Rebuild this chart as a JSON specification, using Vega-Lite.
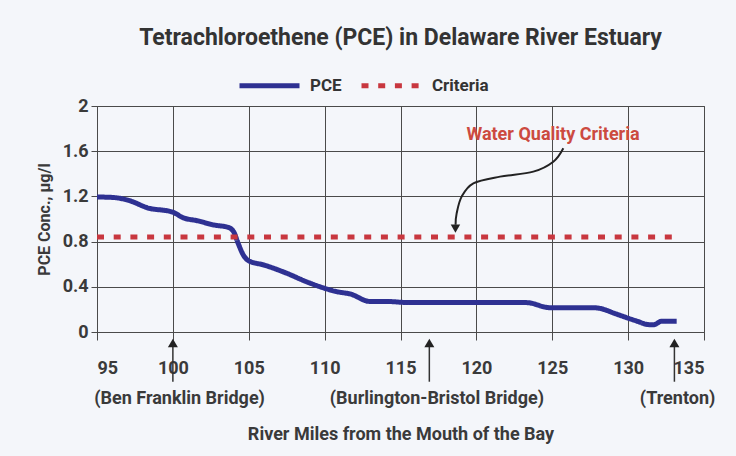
{
  "$schema": "https://vega.github.io/schema/vega-lite/v6.json",
  "width": 607,
  "height": 226,
  "autosize": {"type": "none"},
  "padding": {"left": 97, "top": 106, "right": 32, "bottom": 124},
  "background": "#f4f6fa",
  "title": {
    "text": "Tetrachloroethene (PCE) in Delaware River Estuary",
    "font": "Roboto",
    "fontSize": 23,
    "fontWeight": "bold",
    "color": "#333333",
    "anchor": "middle",
    "frame": "group",
    "offset": 3
  },
  "config": {
    "view": {"stroke": "#4a4a4a", "strokeWidth": 1, "fill": "#f4f6fa"},
    "axis": {
      "labelFont": "Roboto",
      "labelFontSize": 18,
      "labelFontWeight": "bold",
      "labelColor": "#3a3a3a",
      "titleFont": "Roboto",
      "titleFontSize": 18,
      "titleFontWeight": "bold",
      "titleColor": "#3a3a3a",
      "gridColor": "#4a4a4a",
      "gridOpacity": 1,
      "gridWidth": 1,
      "tickColor": "#4a4a4a",
      "domain": false
    },
    "legend": {
      "symbolType": "stroke",
      "symbolSize": 3600,
      "symbolStrokeWidth": 5,
      "labelFont": "Roboto",
      "labelFontSize": 17,
      "labelFontWeight": "bold",
      "labelColor": "#333333",
      "labelOffset": 8,
      "columnPadding": 9,
      "padding": 0
    }
  },
  "datasets": {
    "series": [
      {"mile": 95.0, "value": 1.195, "series": "PCE"},
      {"mile": 96.1, "value": 1.19, "series": "PCE"},
      {"mile": 97.2, "value": 1.16, "series": "PCE"},
      {"mile": 98.3, "value": 1.1, "series": "PCE"},
      {"mile": 100.0, "value": 1.06, "series": "PCE"},
      {"mile": 100.7, "value": 1.01, "series": "PCE"},
      {"mile": 101.6, "value": 0.985, "series": "PCE"},
      {"mile": 102.7, "value": 0.947, "series": "PCE"},
      {"mile": 103.65, "value": 0.926, "series": "PCE"},
      {"mile": 104.0, "value": 0.888, "series": "PCE"},
      {"mile": 104.3, "value": 0.785, "series": "PCE"},
      {"mile": 104.65, "value": 0.68, "series": "PCE"},
      {"mile": 105.0, "value": 0.63, "series": "PCE"},
      {"mile": 106.0, "value": 0.593, "series": "PCE"},
      {"mile": 107.5, "value": 0.52, "series": "PCE"},
      {"mile": 108.8, "value": 0.445, "series": "PCE"},
      {"mile": 110.0, "value": 0.387, "series": "PCE"},
      {"mile": 110.8, "value": 0.357, "series": "PCE"},
      {"mile": 111.7, "value": 0.336, "series": "PCE"},
      {"mile": 113.0, "value": 0.27, "series": "PCE"},
      {"mile": 114.1, "value": 0.27, "series": "PCE"},
      {"mile": 115.6, "value": 0.26, "series": "PCE"},
      {"mile": 120.0, "value": 0.26, "series": "PCE"},
      {"mile": 123.3, "value": 0.26, "series": "PCE"},
      {"mile": 124.85, "value": 0.215, "series": "PCE"},
      {"mile": 127.7, "value": 0.215, "series": "PCE"},
      {"mile": 128.1, "value": 0.21, "series": "PCE"},
      {"mile": 129.2, "value": 0.16, "series": "PCE"},
      {"mile": 130.5, "value": 0.1, "series": "PCE"},
      {"mile": 131.4, "value": 0.065, "series": "PCE"},
      {"mile": 131.7, "value": 0.065, "series": "PCE"},
      {"mile": 132.2, "value": 0.095, "series": "PCE"},
      {"mile": 133.2, "value": 0.095, "series": "PCE"},
      {"mile": 95.0, "value": 0.84, "series": "Criteria"},
      {"mile": 133.0, "value": 0.84, "series": "Criteria"}
    ],
    "curve": [
      {"mile": 125.73, "value": 1.626, "ord": 1},
      {"mile": 125.07, "value": 1.507, "ord": 2},
      {"mile": 123.75, "value": 1.419, "ord": 3},
      {"mile": 121.56, "value": 1.375, "ord": 4},
      {"mile": 119.8, "value": 1.316, "ord": 5},
      {"mile": 119.03, "value": 1.198, "ord": 6},
      {"mile": 118.7, "value": 1.05, "ord": 7},
      {"mile": 118.63, "value": 0.95, "ord": 8}
    ],
    "tip": [{"mile": 118.62, "value": 0.915}],
    "note": [{"mile": 125.05, "value": 1.743, "text": "Water Quality Criteria"}],
    "places": [
      {"mile": 100.0},
      {"mile": 116.9},
      {"mile": 133.05}
    ],
    "placeLabels": [
      {"mile": 100.44, "text": "(Ben Franklin Bridge)"},
      {"mile": 117.4, "text": "(Burlington-Bristol Bridge)"},
      {"mile": 133.26, "text": "(Trenton)"}
    ]
  },
  "encoding": {
    "x": {
      "field": "mile",
      "type": "quantitative",
      "scale": {"domain": [95, 135], "nice": false, "zero": false},
      "axis": {
        "values": [95, 100, 105, 110, 115, 120, 125, 130, 135],
        "grid": true,
        "tickSize": 8,
        "labelPadding": 19,
        "title": "River Miles from the Mouth of the Bay",
        "titlePadding": 48
      }
    }
  },
  "layer": [
    {
      "data": {"name": "series"},
      "mark": {"type": "line", "strokeWidth": 5, "strokeCap": "butt", "interpolate": "monotone"},
      "encoding": {
        "y": {
          "field": "value",
          "type": "quantitative",
          "scale": {"domain": [0, 2], "nice": false, "zero": false},
          "axis": {
            "values": [0, 0.4, 0.8, 1.2, 1.6, 2],
            "format": "~g",
            "grid": true,
            "tickSize": 6,
            "labelPadding": 3,
            "title": "PCE Conc., µg/l",
            "titleFontSize": 16,
            "titlePadding": 10
          }
        },
        "color": {
          "field": "series",
          "type": "nominal",
          "scale": {"domain": ["PCE", "Criteria"], "range": ["#2e3192", "#c8373f"]},
          "legend": {"title": null, "orient": "none", "legendX": 140, "legendY": -53, "direction": "horizontal"}
        },
        "strokeDash": {
          "field": "series",
          "type": "nominal",
          "scale": {"domain": ["PCE", "Criteria"], "range": [[1, 0], [7, 9.7]]},
          "legend": {"title": null, "orient": "none", "legendX": 140, "legendY": -53, "direction": "horizontal"}
        }
      }
    },
    {
      "data": {"name": "curve"},
      "mark": {"type": "line", "color": "#222222", "strokeWidth": 2, "interpolate": "cardinal"},
      "encoding": {
        "y": {"field": "value", "type": "quantitative"},
        "order": {"field": "ord", "type": "quantitative"}
      }
    },
    {
      "data": {"name": "tip"},
      "mark": {"type": "point", "shape": "triangle-down", "filled": true, "color": "#222222", "size": 90, "opacity": 1},
      "encoding": {"y": {"field": "value", "type": "quantitative"}}
    },
    {
      "data": {"name": "note"},
      "mark": {
        "type": "text",
        "color": "#cc4a40",
        "font": "Roboto",
        "fontSize": 18,
        "fontWeight": "bold"
      },
      "encoding": {
        "y": {"field": "value", "type": "quantitative"},
        "text": {"field": "text"}
      }
    },
    {
      "data": {"name": "places"},
      "mark": {"type": "rule", "color": "#333333", "strokeWidth": 1.5},
      "encoding": {"y": {"datum": -0.1}, "y2": {"datum": -0.44}}
    },
    {
      "data": {"name": "places"},
      "mark": {"type": "point", "shape": "triangle-up", "filled": true, "color": "#222222", "size": 100, "opacity": 1},
      "encoding": {"y": {"datum": -0.097}}
    },
    {
      "data": {"name": "placeLabels"},
      "mark": {
        "type": "text",
        "color": "#3a3a3a",
        "font": "Roboto",
        "fontSize": 18,
        "fontWeight": "bold"
      },
      "encoding": {"y": {"datum": -0.59}, "text": {"field": "text"}}
    }
  ]
}
